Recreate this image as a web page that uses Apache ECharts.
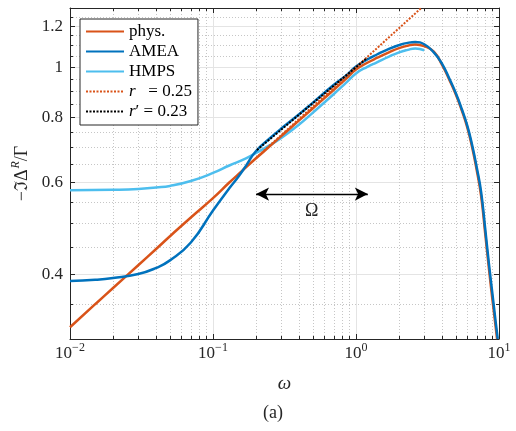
<!DOCTYPE html>
<html><head><meta charset="utf-8">
<script src="https://cdn.jsdelivr.net/npm/echarts@6/dist/echarts.min.js"></script>
<style>html,body{margin:0;padding:0;background:#fff}#c{width:516px;height:431px}</style>
</head><body><div id="c"></div>
<script>
// ---------- data ----------
const physOmega  = [0.01,0.015,0.02,0.03,0.04,0.05,0.07,0.1,0.13,0.15,0.17,0.2,0.25,0.3,0.4,0.5,0.7,0.85,1,1.2,1.4,1.7,2,2.3,2.6,3,3.5,4,4.5,5,5.5,6,6.5,7,7.5,8,8.5,9,9.5,9.7];
const physValues = [0.316,0.350,0.376,0.416,0.447,0.473,0.514,0.560,0.600,0.622,0.642,0.668,0.705,0.737,0.790,0.834,0.905,0.950,0.990,1.020,1.042,1.068,1.088,1.100,1.106,1.098,1.072,1.010,0.945,0.885,0.825,0.766,0.700,0.632,0.565,0.480,0.410,0.357,0.315,0.300];

const ameaOmega  = [0.01,0.015,0.02,0.03,0.04,0.05,0.07,0.1,0.13,0.15,0.17,0.2,0.25,0.3,0.4,0.5,0.7,0.85,1,1.2,1.4,1.7,2,2.3,2.6,3,3.5,4,4.5,5,5.5,6,6.5,7,7.5,8,8.5,9,9.5,9.8];
const ameaValues = [0.388,0.390,0.393,0.400,0.411,0.425,0.460,0.530,0.585,0.615,0.646,0.690,0.730,0.762,0.812,0.855,0.925,0.963,1.003,1.035,1.058,1.085,1.103,1.114,1.118,1.107,1.068,1.015,0.950,0.890,0.830,0.772,0.707,0.640,0.575,0.490,0.419,0.366,0.322,0.300];

const hmpsOmega  = [0.01,0.02,0.03,0.04,0.05,0.07,0.1,0.13,0.17,0.2,0.25,0.3,0.4,0.5,0.7,0.85,1,1.2,1.4,1.7,2,2.3,2.6,3];
const hmpsValues = [0.580,0.581,0.583,0.587,0.591,0.604,0.626,0.647,0.668,0.684,0.708,0.731,0.776,0.818,0.888,0.933,0.973,1.002,1.022,1.048,1.068,1.080,1.087,1.078];

const fitROmega  = [0.2,0.5,1,2,2.86];
const fitRValues = [0.669,0.841,1.0,1.189,1.300];

const fitRpOmega  = [0.203,0.5,1.2];
const fitRpValues = [0.693,0.853,1.043];

const seriesNames = ['phys.','AMEA','HMPS','r = 0.25','r′ = 0.23'];

// ticks
const xTickExponents = [-2,-1,0,1];
const xMinorMultipliers = [2,3,4,5,6,7,8,9];
const yTickValues = [0.4,0.6,0.8,1,1.2];
const yTickLabels = ['0.4','0.6','0.8','1','1.2'];
const yMinorValues = [0.35,0.45,0.5,0.55,0.65,0.7,0.75,0.85,0.9,0.95,1.05,1.1,1.15,1.25];
const xRange = [0.01, 10];
const yRange = [0.3, 1.3];

// annotation anchors (data space)
const arrowOmega = [0.2, 1.21];
const arrowLevel = 0.57;
const omegaTextAt = [0.49, 0.529];

// ---------- build ----------
const L = Math.log10;
const pairs = (xs, ys) => xs.map((x, i) => [L(x), L(ys[i])]);
const xMajor = xTickExponents.slice();
const xMinor = [];
for (let e = xTickExponents[0]; e < xTickExponents[xTickExponents.length-1]; e++)
  xMinorMultipliers.forEach(k => xMinor.push(L(k) + e));
const yMajor = yTickValues.map(L);
const yMinor = yMinorValues.map(L);

const FONT = "'Liberation Serif','DejaVu Serif',serif";
const AX = '#262626';
const C_PHYS = '#D95319', C_AMEA = '#0072BD', C_HMPS = '#4DBEEE';

function xAx(pos, ticks, len, opts) {
  return Object.assign({
    type: 'value', min: L(xRange[0]), max: L(xRange[1]), position: pos,
    axisLine: { show: true, onZero: false, lineStyle: { color: AX, width: 1 } },
    axisTick: { show: true, inside: true, length: len, customValues: ticks, lineStyle: { color: AX, width: 1 } },
    axisLabel: { show: false },
    splitLine: { show: false }
  }, opts || {});
}
function yAx(pos, ticks, len, opts) {
  return Object.assign({
    type: 'value', min: L(yRange[0]), max: L(yRange[1]), position: pos,
    axisLine: { show: true, onZero: false, lineStyle: { color: AX, width: 1 } },
    axisTick: { show: true, inside: true, length: len, customValues: ticks, lineStyle: { color: AX, width: 1 } },
    axisLabel: { show: false },
    splitLine: { show: false }
  }, opts || {});
}
const majorGrid = { show: true, lineStyle: { color: '#e4e4e4', width: 1, type: 'solid' } };
const minorGrid = { show: true, lineStyle: { color: '#c6c6c6', width: 1, type: [1, 2] } };

const supFmt = e => (e < 0 ? '−' + (-e) : '' + e);

const option = {
  animation: false,
  backgroundColor: '#fff',
  grid: { left: 70, right: 17, top: 8, bottom: 92, outerBoundsMode: 'none', containLabel: false },
  xAxis: [
    xAx('bottom', xMajor, 5, {
      splitLine: majorGrid,
      axisLabel: {
        show: true, customValues: xMajor, margin: 3, color: AX,
        formatter: v => '{b|10}{s|' + supFmt(Math.round(v)) + '}',
        rich: {
          b: { fontFamily: FONT, fontSize: 17, color: AX },
          s: { fontFamily: FONT, fontSize: 12, color: AX, padding: [0, 0, 12, 0] }
        }
      },
      name: 'ω', nameLocation: 'middle', nameGap: 35,
      nameTextStyle: { fontFamily: FONT, fontSize: 19, fontStyle: 'italic', color: AX }
    }),
    xAx('bottom', xMinor, 3, { axisLine: { show: false, onZero: false }, splitLine: minorGrid }),
    xAx('top', xMajor, 5),
    xAx('top', xMinor, 3, { axisLine: { show: false, onZero: false } })
  ],
  yAxis: [
    yAx('left', yMajor, 5, {
      splitLine: majorGrid,
      axisLabel: {
        show: true, customValues: yMajor, margin: 7, color: AX,
        fontFamily: FONT, fontSize: 17,
        formatter: v => {
          let best = 0;
          yMajor.forEach((m, i) => { if (Math.abs(m - v) < Math.abs(yMajor[best] - v)) best = i; });
          return yTickLabels[best];
        }
      },
      name: '{t|−ℑΔ}{s|R}{t|/Γ}', nameLocation: 'middle', nameGap: 35, nameRotate: 90,
      nameTextStyle: {
        color: AX,
        rich: {
          t: { fontFamily: FONT, fontSize: 18, color: AX },
          s: { fontFamily: FONT, fontSize: 12, fontStyle: 'italic', color: AX, padding: [0, 0, 12, 1] }
        }
      }
    }),
    yAx('left', yMinor, 3, { axisLine: { show: false, onZero: false }, splitLine: minorGrid }),
    yAx('right', yMajor, 5),
    yAx('right', yMinor, 3, { axisLine: { show: false, onZero: false } })
  ],
  legend: {
    data: seriesNames,
    orient: 'vertical', left: 80, top: 19,
    padding: [4, 6, 5, 5],
    itemWidth: 38, itemHeight: 14, itemGap: 3,
    itemStyle: { opacity: 0 },
    backgroundColor: '#fff', borderColor: AX, borderWidth: 1, borderRadius: 0,
    textStyle: {
      fontFamily: FONT, fontSize: 17, color: '#000', lineHeight: 17,
      rich: {
        n: { fontFamily: FONT, fontSize: 17, color: '#000' },
        i: { fontFamily: FONT, fontSize: 17, fontStyle: 'italic', color: '#000' }
      }
    },
    formatter: name => {
      if (name === seriesNames[3]) return '{i|r}{n|\u2002 = 0.25}';
      if (name === seriesNames[4]) return '{i|r}{n|′ = 0.23}';
      return '{n|' + name + '}';
    },
    selectedMode: false
  },
  series: [
    { name: seriesNames[2], type: 'line', data: pairs(hmpsOmega, hmpsValues), symbol: 'none', smooth: 0.5,
      lineStyle: { color: C_HMPS, width: 2.5 }, itemStyle: { color: C_HMPS }, z: 3 },
    { name: seriesNames[0], type: 'line', data: pairs(physOmega, physValues), symbol: 'none', smooth: 0.5,
      lineStyle: { color: C_PHYS, width: 2.5 }, itemStyle: { color: C_PHYS }, z: 4 },
    { name: seriesNames[1], type: 'line', data: pairs(ameaOmega, ameaValues), symbol: 'none', smooth: 0.5,
      lineStyle: { color: C_AMEA, width: 2.5 }, itemStyle: { color: C_AMEA }, z: 5 },
    { name: seriesNames[3], type: 'line', data: pairs(fitROmega, fitRValues), symbol: 'none',
      lineStyle: { color: C_PHYS, width: 2, type: [2, 1.5] }, itemStyle: { color: C_PHYS }, z: 6 },
    { name: seriesNames[4], type: 'line', data: pairs(fitRpOmega, fitRpValues), symbol: 'none',
      lineStyle: { color: '#000', width: 2, type: [2, 1.5] }, itemStyle: { color: '#000' }, z: 7 },
    { name: '', type: 'line', data: [], symbol: 'none', silent: true, z: 8,
      markLine: {
        silent: true, animation: false,
        symbol: ['arrow', 'arrow'], symbolSize: [10, 13],
        label: { show: false },
        lineStyle: { color: '#000', width: 1.3, type: 'solid' },
        data: [[ { coord: [L(arrowOmega[0]), L(arrowLevel)] }, { coord: [L(arrowOmega[1]), L(arrowLevel)] } ]]
      },
      markPoint: {
        silent: true, animation: false,
        data: [{ coord: [L(omegaTextAt[0]), L(omegaTextAt[1])], symbol: 'circle', symbolSize: 0,
          label: { show: true, position: 'inside', formatter: 'Ω', fontFamily: FONT, fontSize: 18, color: AX } }]
      }
    }
  ],
  graphic: [
    { type: 'text', left: 263, top: 404, style: { text: '(a)', fontFamily: FONT, fontSize: 18, fill: AX } }
  ]
};

const chart = echarts.init(document.getElementById('c'), null, { renderer: 'canvas' });
chart.setOption(option);
</script>
</body></html>
